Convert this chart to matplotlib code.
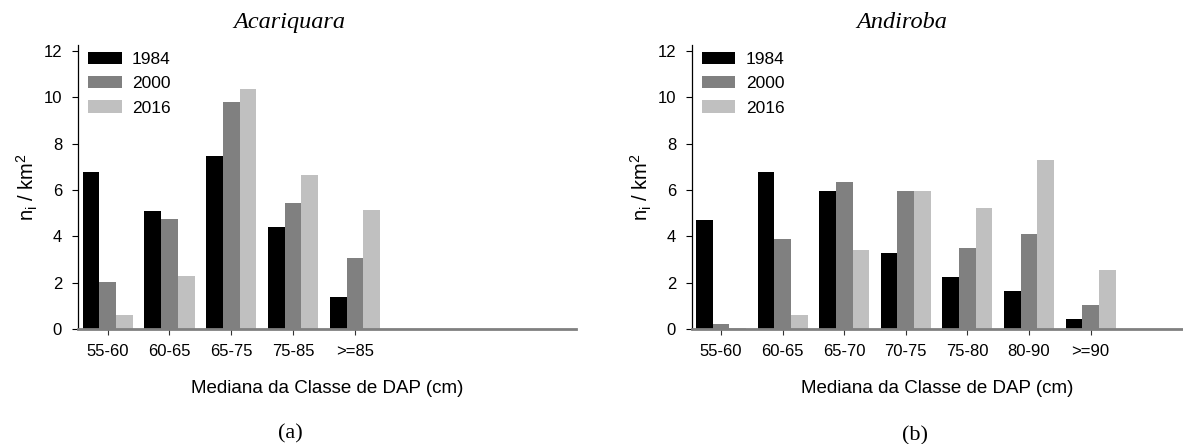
import matplotlib
matplotlib.use('Agg')
from matplotlib import pyplot as plt
import numpy as np

years = ['1984', '2000', '2016']
colors = ['#000000', '#808080', '#c0c0c0']

acari_classes = ['55-60', '60-65', '65-75', '75-85', '>=85']
acari_1984 = [6.76, 5.08, 7.47, 4.40, 1.37]
acari_2000 = [2.01, 4.75, 9.80, 5.43, 3.06]
acari_2016 = [0.60, 2.29, 10.36, 6.64, 5.13]

andi_classes = ['55-60', '60-65', '65-70', '70-75', '75-80', '80-90', '>=90']
andi_1984 = [4.70, 6.77, 5.96, 3.28, 2.24, 1.64, 0.43]
andi_2000 = [0.22, 3.88, 6.35, 5.96, 3.50, 4.10, 1.04]
andi_2016 = [0.05, 0.60, 3.41, 5.96, 5.22, 7.29, 2.55]

plt.rcParams['font.family'] = ['Liberation Sans', 'DejaVu Sans']
plt.rcParams['mathtext.fontset'] = 'custom'
plt.rcParams['mathtext.rm'] = 'Liberation Sans'
plt.rcParams['mathtext.it'] = 'Liberation Sans'

W, H = 1183, 444
fig = plt.figure(figsize=(W / 100, H / 100), dpi=100)

def px(x0, x1, y0, y1):
    return [x0 / W, 1 - y1 / H, (x1 - x0) / W, (y1 - y0) / H]

def draw(ax, classes, series, xlim, title, tx, letter, lx, ly):
    x = np.arange(len(classes))
    w = 0.27
    for i, (vals, c, lab) in enumerate(zip(series, colors, years)):
        ax.bar(x + (i - 1) * w, vals, width=w, color=c, label=lab, linewidth=0)
    ax.set_xlim(*xlim)
    ax.set_ylim(0, 12.26)
    ax.set_yticks([0, 2, 4, 6, 8, 10, 12])
    ax.set_xticks(x)
    ax.set_xticklabels(classes)
    ax.tick_params(axis='both', labelsize=12, length=4.5, width=0.8, direction='out')
    ax.tick_params(axis='x', pad=6.5, colors='#333333', labelcolor='black')
    ax.tick_params(axis='y', pad=6.8)
    for s in ['top', 'right']:
        ax.spines[s].set_visible(False)
    ax.spines['left'].set_linewidth(0.9)
    ax.spines['bottom'].set_color('#808080')
    ax.spines['bottom'].set_linewidth(2)
    ax.legend(loc='upper left', bbox_to_anchor=(0.02, 0.975), frameon=False,
              fontsize=12.5, handlelength=1.95, handleheight=0.7,
              handletextpad=0.6, labelspacing=0.52, borderpad=0, borderaxespad=0)
    pos = ax.get_position()
    cx = (pos.x0 + pos.x1) / 2
    fig.text(tx / W, 1 - 28 / H, title, family='Liberation Serif', style='italic',
             fontsize=17.5, ha='center', va='baseline')
    fig.text(cx, 1 - 393 / H, 'Mediana da Classe de DAP (cm)', fontsize=13.5,
             ha='center', va='baseline')
    fig.text(lx / W, 1 - ly / H, letter, family='Liberation Serif', fontsize=16,
             ha='center', va='baseline')
    fig.text(pos.x0 - 50 / W, (pos.y0 + pos.y1) / 2, r'$\mathregular{n_i\ /\ km^2}$',
             rotation=90, fontsize=14.5, ha='center', va='center')

ax1 = fig.add_axes(px(77.7, 576, 45, 329))
draw(ax1, acari_classes, [acari_1984, acari_2000, acari_2016], (-0.485, 7.578),
     'Acariquara', 289, '(a)', 290, 438)

ax2 = fig.add_axes(px(691.7, 1183, 45, 329))
draw(ax2, andi_classes, [andi_1984, andi_2000, andi_2016], (-0.476, 7.5),
     'Andiroba', 902, '(b)', 915, 440)

fig.savefig('out.png', dpi=100)
